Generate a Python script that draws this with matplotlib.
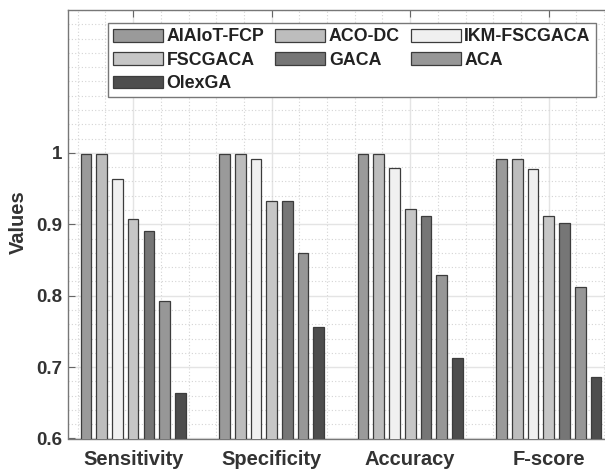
import matplotlib
matplotlib.use("Agg")
import matplotlib.pyplot as plt
import numpy as np
from matplotlib.ticker import MultipleLocator

categories = ["Sensitivity", "Specificity", "Accuracy", "F-score"]
methods = ["AIAIoT-FCP", "ACO-DC", "IKM-FSCGACA", "FSCGACA", "GACA", "ACA", "OlexGA"]
aiaiot_fcp = [0.998, 0.999, 0.999, 0.992]
aco_dc = [0.998, 0.999, 0.998, 0.991]
ikm_fscgaca = [0.963, 0.992, 0.979, 0.977]
fscgaca = [0.907, 0.933, 0.922, 0.911]
gaca = [0.890, 0.932, 0.912, 0.902]
aca = [0.793, 0.860, 0.829, 0.812]
olexga = [0.664, 0.756, 0.713, 0.686]
series = [aiaiot_fcp, aco_dc, ikm_fscgaca, fscgaca, gaca, aca, olexga]
colors = ["#9a9a9a", "#bdbdbd", "#f0f0f0", "#c6c6c6", "#767676", "#979797", "#4d4d4d"]

plt.rcParams['font.family'] = ['Liberation Sans', 'DejaVu Sans']
plt.rcParams['font.weight'] = 'bold'
txt = "#333333"

W, H = 605, 474
fig = plt.figure(figsize=(W/100, H/100), dpi=100)
left_px, right_px, top_px, bot_px = 68, 618, 10, 438.5
ax = fig.add_axes([left_px/W, 1 - bot_px/H, (right_px-left_px)/W, (bot_px-top_px)/H])

x = np.arange(1, len(categories) + 1)
n = len(series)
pitch = 0.1135
bw = 0.077
bars = []
for i, (vals, c, m) in enumerate(zip(series, colors, methods)):
    off = (i - (n - 1) / 2) * pitch
    b = ax.bar(x + off, vals, width=bw, color=c, edgecolor="#3c3c3c", linewidth=0.9,
               label=m, zorder=3)
    bars.append(b)

ax.set_xlim(0.53, 4.5)
ax.set_ylim(0.6, 1.2)
ax.set_yticks([0.6, 0.7, 0.8, 0.9, 1.0])
ax.set_yticklabels(["0.6", "0.7", "0.8", "0.9", "1"])
ax.set_xticks(x)
ax.set_xticklabels(categories)
ax.yaxis.set_minor_locator(MultipleLocator(0.02))
ax.xaxis.set_minor_locator(MultipleLocator(0.2))
ax.grid(True, which='major', color="#e4e4e4", linewidth=1.0, linestyle='-', zorder=0)
ax.grid(True, which='minor', color="#d4d4d4", linewidth=0.8, linestyle=(0, (1, 2)), zorder=0)
ax.set_axisbelow(True)
ax.tick_params(axis='both', which='major', direction='in', length=5, color="#666666",
               labelcolor=txt, top=True, right=False)
ax.tick_params(axis='x', which='major', pad=8, labelsize=14.5)
ax.tick_params(axis='y', which='major', pad=4, labelsize=13.5)
ax.tick_params(which='minor', length=0)
for lab in ax.get_xticklabels() + ax.get_yticklabels():
    lab.set_fontweight('bold')
for s in ax.spines.values():
    s.set_color("#777777")
    s.set_linewidth(1.0)

ax.set_ylabel("Values", fontsize=14.5, fontweight='bold', color=txt)
ax.yaxis.set_label_coords(28/W, 1 - 222/H, transform=fig.transFigure)

order = [0, 3, 6, 1, 4, 2, 5]
leg = ax.legend([bars[i] for i in order], [methods[i] for i in order],
                ncol=3, loc='upper left',
                bbox_to_anchor=(108/W, 1 - 23/H),
                bbox_transform=fig.transFigure,
                fontsize=12.8, frameon=True, fancybox=False,
                handlelength=2.8, handleheight=0.73, handletextpad=0.2,
                labelspacing=0.36, borderpad=0.3, borderaxespad=0, columnspacing=0.62)
leg.get_frame().set_edgecolor("#777777")
leg.get_frame().set_linewidth(1.0)
leg.get_frame().set_alpha(1)
for t in leg.get_texts():
    t.set_color("#222222")
    t.set_fontweight('bold')

fig.savefig("out.png", dpi=100)
